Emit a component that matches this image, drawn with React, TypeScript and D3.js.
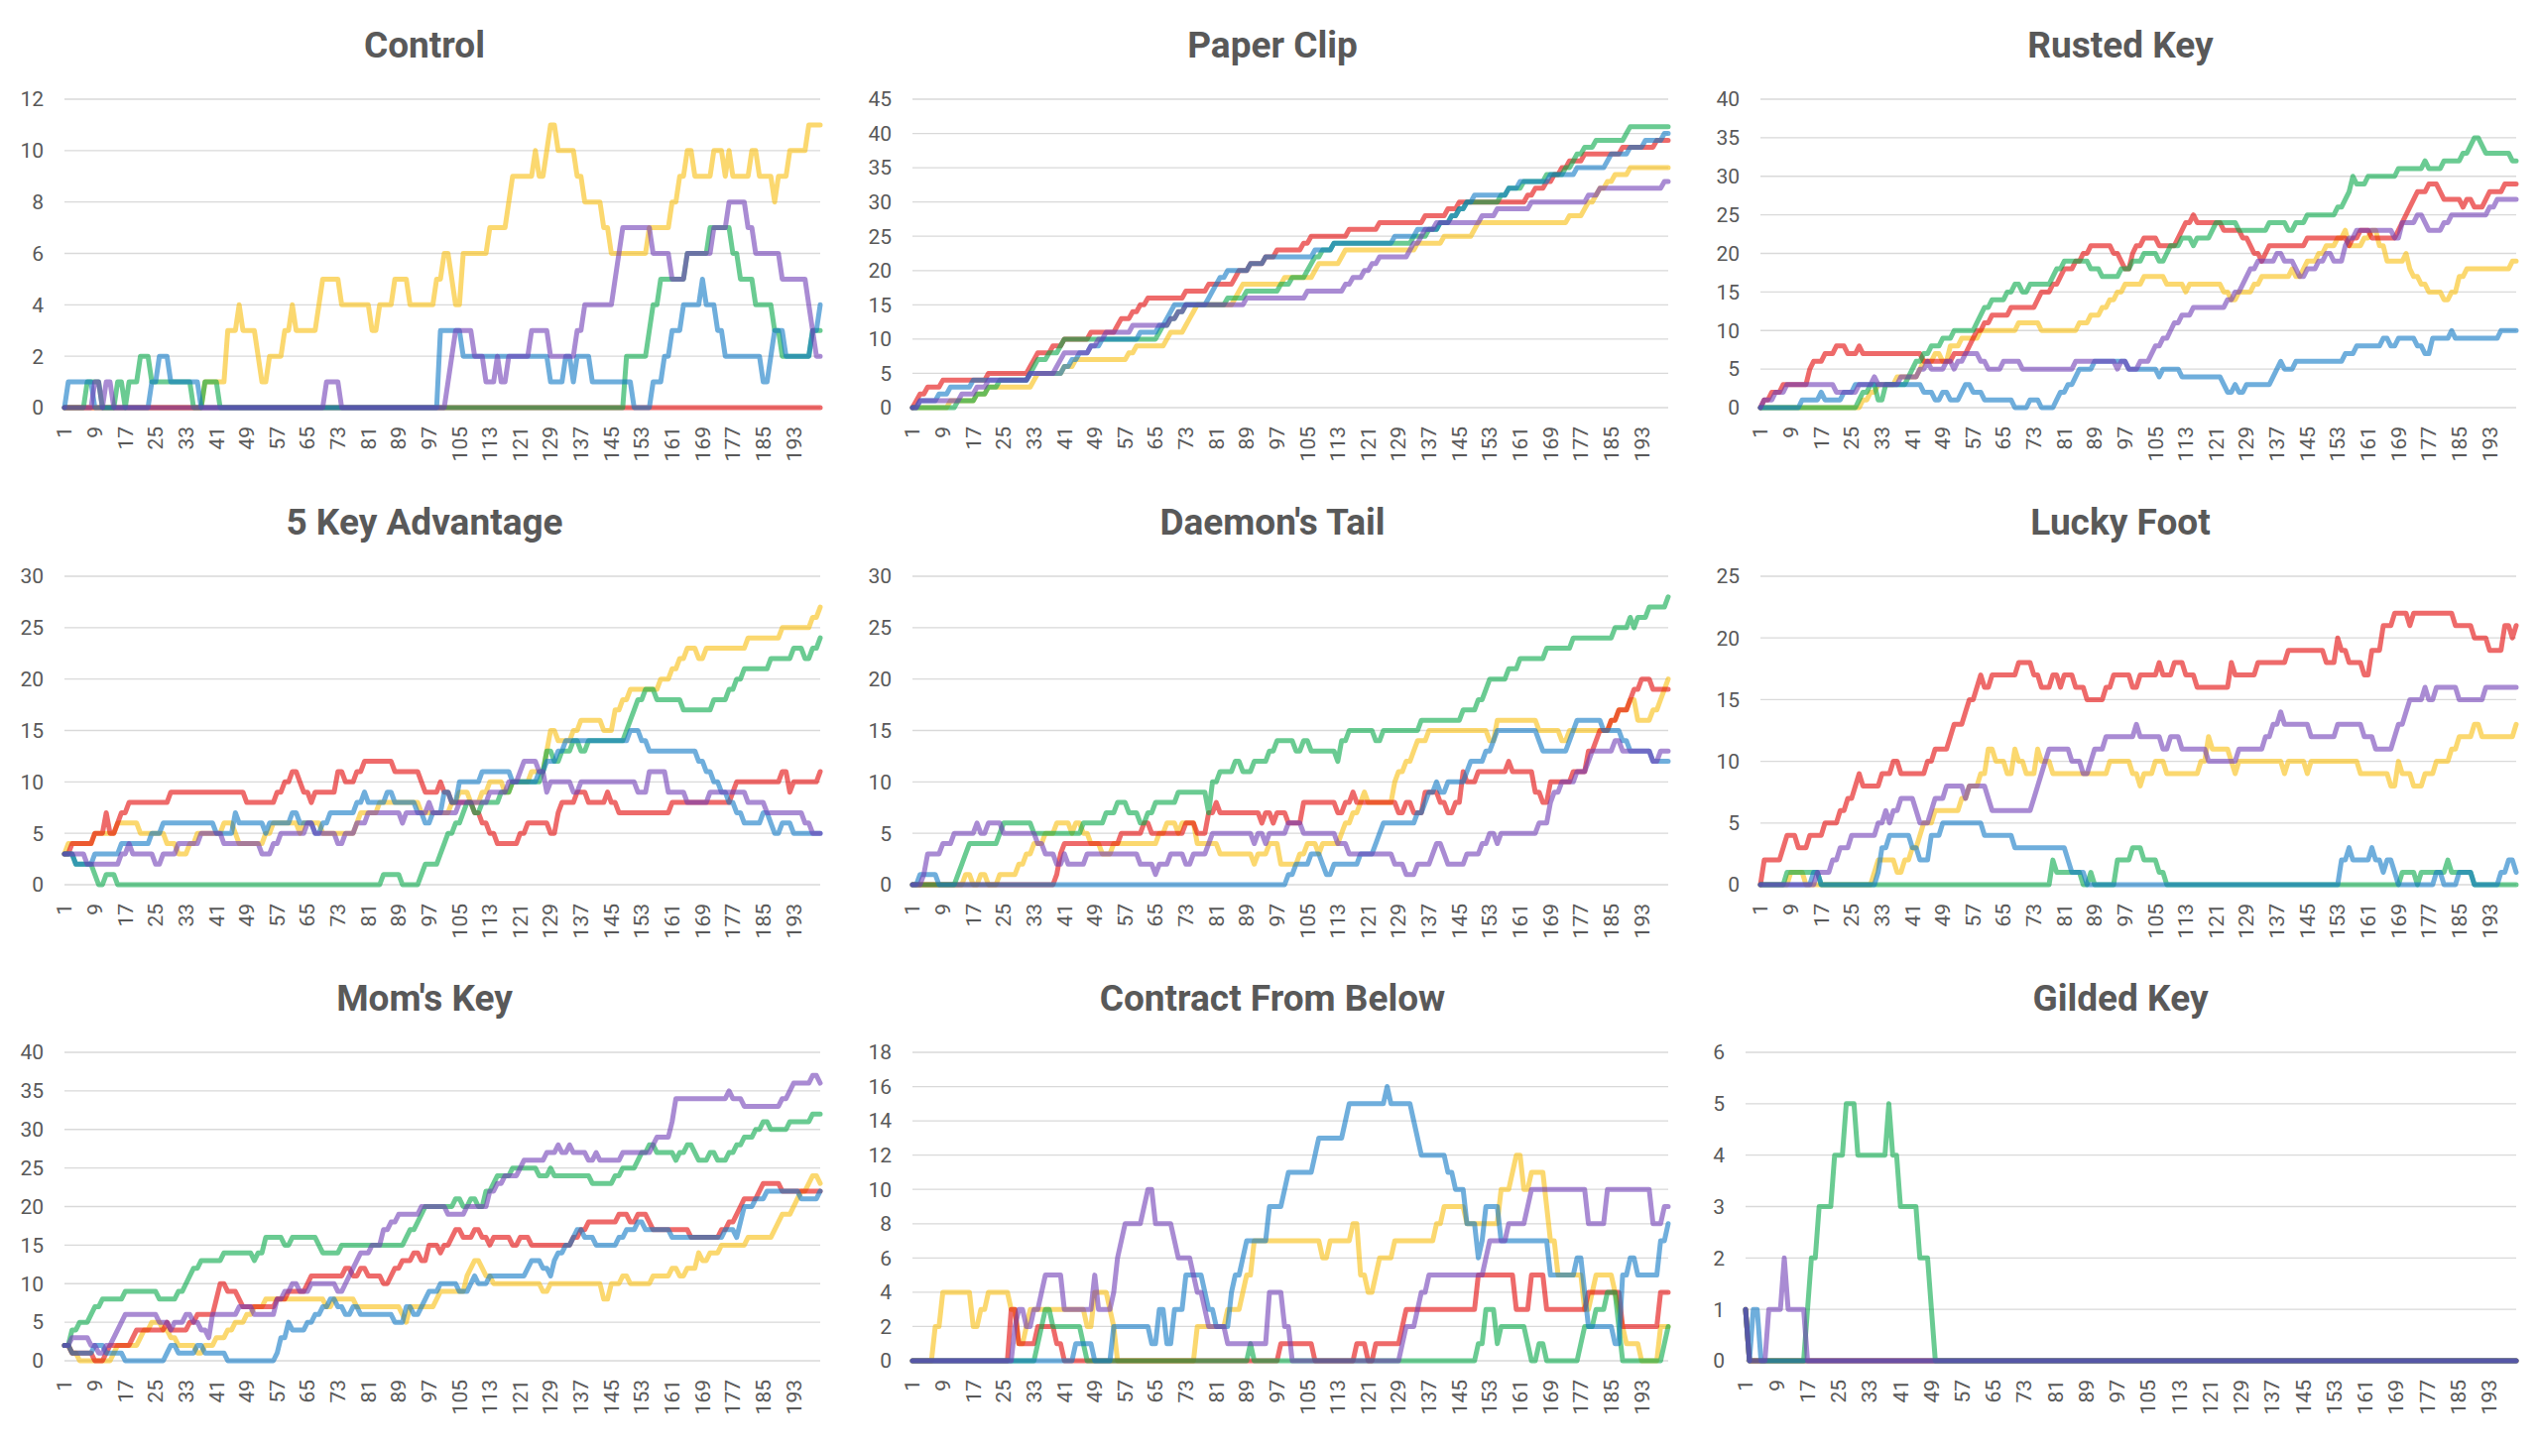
import * as d3 from 'd3';
import * as React from 'react';

// step data: pairs of [index, value], the value holds until the next pair
const ctrlYellow = [1,0, 38,1, 44,3, 47,4, 48,3, 52,2, 53,1, 55,2, 59,3, 61,4, 62,3, 68,4, 69,5, 74,4, 82,3, 84,4, 88,5, 92,4, 99,5, 101,6, 103,5, 104,4, 106,6, 113,7, 118,8, 119,9, 125,10, 126,9, 128,10, 129,11, 131,10, 136,9, 138,8, 143,7, 145,6, 155,7, 161,8, 163,9, 165,10, 167,9, 172,10, 175,9, 176,10, 177,9, 182,10, 184,9, 188,8, 189,9, 192,10, 197,11];
const ctrlRed = [1,0];
const ctrlGreen = [1,0, 7,1, 11,0, 15,1, 17,0, 18,1, 21,2, 24,1, 35,0, 38,1, 42,0, 149,2, 155,3, 156,4, 158,5, 165,6, 171,7, 177,6, 179,5, 183,4, 188,3, 190,2, 198,3];
const ctrlBlue = [1,0, 2,1, 9,0, 24,1, 26,2, 29,1, 37,0, 100,3, 106,2, 129,1, 133,2, 135,1, 136,2, 140,1, 151,0, 156,1, 159,2, 161,3, 164,4, 169,5, 170,4, 173,3, 175,2, 185,1, 187,2, 188,3, 191,2, 198,3, 200,4];
const ctrlPurple = [1,0, 9,1, 11,0, 12,1, 14,0, 70,1, 74,0, 102,1, 103,2, 104,3, 109,2, 112,1, 115,2, 116,1, 118,2, 124,3, 129,2, 136,3, 138,4, 146,5, 147,6, 148,7, 156,6, 161,5, 165,6, 172,7, 176,8, 181,7, 183,6, 190,5, 197,4, 198,3, 199,2];

const pcYellow = [1,0, 11,1, 18,2, 21,3, 33,4, 34,5, 41,6, 44,7, 58,8, 60,9, 68,10, 69,11, 73,12, 74,13, 75,14, 76,15, 86,16, 87,17, 88,18, 99,19, 107,20, 108,21, 114,22, 115,23, 134,24, 141,25, 149,26, 150,27, 174,28, 178,29, 179,30, 181,31, 182,32, 184,33, 186,34, 190,35];
const pcRed = [1,0, 2,1, 3,2, 5,3, 9,4, 21,5, 32,6, 33,7, 34,8, 38,9, 41,10, 48,11, 55,12, 56,13, 59,14, 61,15, 63,16, 73,17, 79,18, 86,19, 87,20, 90,21, 94,22, 97,23, 104,24, 106,25, 116,26, 124,27, 136,28, 142,29, 145,30, 163,31, 165,32, 168,33, 170,34, 172,35, 174,36, 178,37, 188,38, 197,39];
const pcGreen = [1,0, 13,1, 18,2, 21,3, 24,4, 32,5, 33,6, 34,7, 37,8, 40,9, 41,10, 66,11, 67,12, 69,13, 71,14, 73,15, 84,16, 89,17, 98,18, 101,19, 105,20, 106,21, 107,22, 109,23, 112,24, 133,25, 137,26, 140,27, 143,28, 145,29, 147,30, 156,31, 158,32, 162,33, 168,34, 173,35, 175,36, 176,37, 178,38, 181,39, 189,40, 190,41];
const pcBlue = [1,0, 3,1, 8,2, 11,3, 17,4, 32,5, 41,6, 43,7, 45,8, 48,9, 51,10, 61,11, 66,12, 68,13, 69,14, 70,15, 79,16, 80,17, 81,18, 82,19, 84,20, 90,21, 94,22, 107,23, 112,24, 128,25, 134,26, 140,27, 143,28, 145,29, 147,30, 149,31, 158,32, 161,33, 169,34, 176,35, 184,36, 185,37, 190,38, 194,39, 199,40];
const pcPurple = [1,0, 3,1, 14,2, 18,3, 21,4, 32,5, 39,6, 40,7, 41,8, 48,9, 50,10, 52,11, 59,12, 69,13, 71,14, 73,15, 89,16, 105,17, 115,18, 117,19, 120,20, 122,21, 124,22, 132,23, 133,24, 135,25, 136,26, 139,27, 151,28, 155,29, 164,30, 179,31, 182,32, 199,33];

const rkYellow = [1,0, 28,1, 30,2, 32,3, 37,4, 43,5, 44,6, 47,7, 49,6, 51,8, 54,9, 59,10, 69,11, 75,10, 85,11, 88,12, 91,13, 93,14, 95,15, 97,16, 102,17, 108,16, 113,15, 114,16, 123,15, 125,14, 127,15, 131,16, 133,17, 141,18, 142,17, 144,18, 145,19, 148,20, 150,21, 153,22, 155,23, 156,21, 160,22, 162,23, 164,21, 166,19, 171,20, 172,18, 173,17, 175,16, 177,15, 181,14, 183,15, 185,17, 187,18, 199,19];
const rkRed = [1,0, 2,1, 4,2, 7,3, 14,5, 15,6, 18,7, 21,8, 24,7, 27,8, 28,7, 44,6, 52,7, 56,8, 57,9, 58,10, 60,11, 62,12, 67,13, 74,14, 75,15, 78,16, 80,17, 81,18, 84,19, 86,20, 88,21, 94,20, 96,19, 97,18, 99,20, 100,21, 102,22, 106,21, 111,22, 112,23, 113,24, 115,25, 116,24, 123,23, 128,22, 130,21, 131,20, 133,19, 134,20, 135,21, 145,22, 156,21, 157,22, 159,23, 162,22, 169,23, 170,24, 171,25, 172,26, 173,27, 174,28, 177,29, 180,28, 181,27, 186,26, 187,27, 189,26, 192,27, 193,28, 197,29];
const rkGreen = [1,0, 27,1, 28,2, 30,3, 32,1, 34,3, 40,4, 41,5, 42,6, 44,7, 46,8, 49,9, 52,10, 58,11, 59,12, 60,13, 62,14, 66,15, 68,16, 70,15, 72,16, 78,17, 79,18, 81,19, 88,18, 91,17, 96,18, 99,19, 102,20, 106,19, 108,20, 109,21, 112,22, 115,21, 116,22, 120,23, 121,24, 127,23, 135,24, 140,23, 142,24, 145,25, 153,26, 155,27, 156,28, 157,30, 158,29, 161,30, 169,31, 176,32, 177,31, 181,32, 186,33, 188,34, 189,35, 191,34, 192,33, 199,32];
const rkBlue = [1,0, 12,1, 17,2, 18,1, 23,2, 26,3, 44,2, 47,1, 49,2, 51,1, 54,2, 55,3, 57,2, 60,1, 68,0, 72,1, 75,0, 79,1, 80,2, 82,3, 84,4, 85,5, 89,6, 98,5, 106,4, 107,5, 112,4, 123,3, 124,2, 126,3, 127,2, 129,3, 136,4, 137,5, 138,6, 139,5, 142,6, 155,7, 158,8, 165,9, 167,8, 169,9, 174,8, 176,7, 178,9, 183,10, 184,9, 196,10];
const rkPurple = [1,0, 2,1, 5,2, 8,3, 21,2, 27,3, 31,4, 32,3, 38,4, 43,5, 45,6, 46,5, 50,6, 52,5, 53,6, 55,7, 59,6, 61,5, 65,6, 70,5, 84,6, 95,5, 96,6, 98,5, 101,6, 104,7, 105,8, 107,9, 109,10, 110,11, 112,12, 115,13, 124,14, 126,15, 128,16, 129,17, 130,18, 132,19, 137,20, 139,19, 142,18, 143,17, 145,18, 148,19, 150,20, 152,19, 155,21, 156,22, 158,23, 168,22, 170,24, 174,25, 176,24, 177,23, 181,24, 183,25, 193,26, 195,27];

const kaYellow = [1,3, 2,4, 9,5, 15,6, 21,5, 28,4, 31,3, 34,4, 36,5, 43,6, 46,5, 47,4, 54,5, 56,6, 63,5, 64,6, 69,5, 78,6, 79,7, 84,8, 95,7, 103,8, 105,9, 108,8, 111,9, 113,10, 117,9, 119,10, 124,11, 128,13, 129,15, 131,14, 135,15, 137,16, 143,15, 146,17, 148,18, 150,19, 158,20, 161,21, 163,22, 165,23, 168,22, 170,23, 181,24, 190,25, 198,26, 200,27];
const kaRed = [1,3, 3,4, 9,5, 12,7, 13,5, 15,6, 16,7, 18,8, 29,9, 49,8, 57,9, 59,10, 61,11, 63,10, 64,9, 66,8, 67,9, 73,11, 75,10, 78,11, 80,12, 88,11, 95,10, 96,9, 100,10, 101,9, 103,8, 109,7, 111,6, 113,5, 115,4, 121,5, 123,6, 129,5, 131,7, 132,8, 136,9, 139,8, 144,9, 145,8, 147,7, 161,8, 177,9, 178,10, 190,11, 192,9, 193,10, 200,11];
const kaGreen = [1,3, 4,2, 9,1, 10,0, 12,1, 15,0, 85,1, 90,0, 95,1, 96,2, 100,3, 101,4, 102,5, 104,6, 106,7, 107,8, 109,7, 111,8, 116,9, 119,10, 127,11, 128,13, 130,12, 132,13, 135,14, 137,13, 139,14, 149,15, 150,16, 151,17, 152,18, 154,19, 157,18, 164,17, 172,18, 176,19, 178,20, 180,21, 187,22, 193,23, 196,22, 198,23, 200,24];
const kaBlue = [1,3, 4,2, 9,3, 16,4, 24,5, 27,6, 41,5, 46,7, 47,6, 54,5, 55,6, 61,7, 63,6, 67,5, 69,6, 71,7, 78,8, 80,9, 81,8, 86,9, 88,8, 94,7, 96,6, 98,7, 101,9, 103,8, 105,10, 111,11, 119,10, 126,11, 128,12, 131,13, 133,14, 150,15, 153,14, 155,13, 168,12, 170,11, 172,10, 174,9, 176,8, 178,7, 180,6, 185,7, 187,6, 188,5, 190,6, 193,5];
const kaPurple = [1,3, 7,2, 16,3, 18,4, 19,3, 25,2, 27,3, 31,4, 37,5, 43,4, 53,3, 56,4, 58,5, 65,6, 67,5, 73,4, 75,5, 78,6, 81,7, 90,6, 91,7, 97,8, 98,7, 105,8, 113,9, 118,10, 121,11, 122,12, 126,11, 128,9, 129,10, 135,9, 137,10, 152,9, 155,11, 160,9, 165,8, 171,9, 181,8, 186,7, 196,6, 198,5];

const dtYellow = [1,0, 15,1, 17,0, 19,1, 21,0, 24,1, 29,2, 31,3, 33,4, 36,5, 39,6, 43,5, 44,6, 46,5, 48,4, 51,3, 54,4, 66,5, 68,6, 71,5, 72,6, 76,4, 82,3, 91,2, 92,3, 95,4, 98,2, 103,3, 105,4, 108,3, 109,4, 114,5, 115,6, 117,7, 119,8, 120,9, 121,8, 128,10, 129,11, 131,12, 133,13, 134,14, 137,15, 153,14, 155,16, 166,15, 172,14, 174,15, 185,16, 187,17, 190,18, 192,16, 196,17, 198,18, 199,19, 200,20];
const dtRed = [1,0, 39,1, 40,3, 41,4, 55,4, 56,5, 62,6, 64,5, 73,6, 76,5, 79,7, 81,8, 82,7, 93,6, 94,7, 96,6, 97,7, 100,6, 104,8, 113,7, 115,8, 117,9, 118,8, 129,7, 131,8, 133,7, 136,9, 140,8, 142,7, 144,8, 146,11, 147,10, 150,11, 158,12, 159,11, 165,9, 167,8, 169,10, 175,11, 179,13, 181,14, 182,15, 185,16, 187,17, 190,18, 191,19, 193,20, 196,19];
const dtGreen = [1,0, 13,1, 14,2, 15,3, 16,4, 24,5, 25,6, 33,5, 46,6, 52,7, 55,8, 58,7, 61,6, 63,7, 65,8, 71,9, 79,7, 80,10, 82,11, 86,12, 88,11, 91,12, 95,13, 97,14, 102,13, 104,14, 106,13, 113,12, 114,14, 116,15, 123,14, 125,15, 135,16, 146,17, 150,18, 152,19, 153,20, 158,21, 161,22, 168,23, 175,24, 186,25, 190,26, 191,25, 192,26, 195,27, 200,28];
const dtBlue = [1,0, 3,1, 8,0, 100,1, 102,2, 106,3, 109,2, 110,1, 112,2, 119,3, 123,4, 124,5, 125,6, 134,7, 136,8, 137,9, 139,10, 140,9, 142,10, 147,11, 148,12, 152,13, 154,14, 155,15, 166,14, 167,13, 174,14, 175,15, 176,16, 183,15, 188,14, 190,13, 196,12];
const dtPurple = [1,0, 4,1, 5,3, 9,4, 12,5, 18,6, 19,5, 21,6, 25,5, 34,4, 36,3, 39,2, 41,3, 42,2, 47,3, 61,2, 65,1, 66,2, 69,3, 73,2, 75,3, 79,4, 80,5, 91,4, 92,5, 94,4, 95,5, 100,6, 104,5, 113,4, 116,3, 128,2, 131,1, 134,2, 138,3, 139,4, 141,3, 142,2, 147,3, 151,4, 153,5, 155,4, 156,5, 166,6, 169,8, 170,9, 172,10, 176,11, 179,12, 180,13, 186,14, 188,13, 196,12, 198,13];

const lfYellow = [1,0, 9,1, 13,0, 31,1, 32,2, 37,1, 39,2, 41,3, 43,4, 44,5, 47,6, 54,7, 56,8, 59,9, 61,11, 63,10, 66,9, 68,11, 69,10, 71,9, 74,11, 75,10, 78,9, 93,10, 99,9, 101,8, 102,9, 105,10, 108,9, 117,10, 119,12, 120,11, 125,10, 126,9, 127,10, 139,9, 140,10, 145,9, 146,10, 159,9, 167,8, 169,10, 170,9, 173,8, 176,9, 179,10, 183,11, 185,12, 189,13, 191,12, 200,13];
const lfRed = [1,0, 2,2, 7,3, 8,4, 11,3, 14,4, 18,5, 22,6, 24,7, 26,8, 27,9, 28,8, 33,9, 36,10, 38,9, 45,10, 47,11, 51,12, 52,13, 55,14, 56,15, 58,16, 59,17, 60,16, 62,17, 69,18, 73,17, 75,16, 78,17, 80,16, 81,17, 84,16, 87,15, 92,16, 94,17, 99,16, 101,17, 106,18, 107,17, 110,18, 113,17, 116,16, 125,18, 126,17, 132,18, 140,19, 150,18, 153,20, 154,19, 156,18, 160,17, 162,19, 165,21, 168,22, 172,21, 173,22, 184,21, 189,20, 193,19, 197,21, 199,20, 200,21];
const lfGreen = [1,0, 8,1, 17,0, 78,2, 79,1, 86,0, 88,1, 89,0, 95,2, 99,3, 102,2, 106,1, 108,0, 170,1, 174,0, 175,1, 182,2, 183,1, 189,0];
const lfBlue = [1,0, 15,1, 17,0, 32,1, 33,3, 35,4, 41,3, 43,2, 46,4, 49,5, 60,4, 68,3, 82,2, 83,1, 87,0, 154,2, 156,3, 157,2, 162,3, 163,2, 165,1, 166,2, 168,1, 169,0, 179,1, 181,0, 185,1, 189,0, 196,1, 198,2, 200,1];
const lfPurple = [1,0, 16,1, 20,2, 22,3, 25,4, 32,5, 34,6, 35,5, 36,6, 38,7, 42,6, 43,5, 46,6, 47,7, 50,8, 55,7, 56,8, 61,7, 62,6, 73,7, 74,8, 75,9, 76,10, 77,11, 83,10, 86,9, 88,10, 89,11, 92,12, 100,13, 101,12, 107,11, 109,12, 112,11, 119,10, 127,11, 134,12, 136,13, 138,14, 139,13, 146,12, 153,13, 160,12, 163,11, 168,12, 169,13, 171,14, 172,15, 176,16, 177,15, 179,16, 185,15, 192,16];

const mkYellow = [1,2, 3,1, 5,0, 14,1, 15,2, 21,3, 22,4, 24,5, 27,4, 29,3, 31,2, 36,1, 38,2, 41,3, 44,4, 46,5, 49,6, 51,7, 54,8, 70,7, 72,8, 78,7, 90,6, 91,5, 92,7, 99,8, 100,9, 107,11, 108,12, 109,13, 111,12, 112,11, 114,10, 127,9, 129,10, 143,8, 145,10, 148,11, 150,10, 156,11, 161,12, 163,11, 165,12, 168,14, 169,13, 171,14, 174,15, 181,16, 188,17, 189,18, 190,19, 193,20, 194,21, 195,22, 197,23, 198,24, 200,23];
const mkRed = [1,2, 3,1, 9,0, 12,1, 13,2, 19,3, 20,4, 28,5, 29,4, 34,5, 36,6, 41,8, 42,10, 44,9, 47,8, 48,7, 57,8, 60,9, 65,10, 66,11, 75,12, 77,11, 79,12, 81,11, 85,10, 87,11, 88,12, 90,13, 93,14, 95,13, 97,15, 100,14, 101,15, 103,16, 104,17, 106,16, 109,17, 111,16, 113,15, 114,16, 119,15, 121,16, 124,15, 135,16, 137,17, 139,18, 147,19, 150,18, 152,19, 155,18, 156,17, 166,16, 174,17, 176,18, 178,19, 179,20, 180,21, 184,22, 185,23, 190,22];
const mkGreen = [1,2, 3,4, 5,5, 8,6, 9,7, 11,8, 17,9, 26,8, 31,9, 33,10, 34,11, 35,12, 37,13, 43,14, 51,13, 52,14, 54,16, 59,15, 61,16, 68,15, 69,14, 74,15, 91,16, 92,17, 94,18, 95,19, 96,20, 104,21, 106,20, 108,21, 110,20, 112,22, 114,23, 115,24, 119,25, 126,24, 129,25, 130,24, 140,23, 146,24, 148,25, 152,26, 153,27, 155,28, 157,27, 162,26, 163,27, 165,28, 167,27, 168,26, 171,27, 173,26, 176,27, 178,28, 180,29, 183,30, 185,31, 187,30, 192,31, 198,32];
const mkBlue = [1,2, 3,1, 9,2, 12,1, 17,0, 28,1, 29,2, 31,1, 36,2, 38,1, 44,0, 57,1, 58,3, 60,5, 61,4, 65,5, 67,6, 69,7, 71,8, 73,7, 75,6, 77,7, 79,6, 88,5, 91,7, 93,6, 95,7, 96,8, 97,9, 100,10, 105,9, 108,10, 109,11, 110,10, 113,11, 123,12, 124,13, 127,12, 129,11, 130,13, 131,14, 133,15, 135,16, 136,17, 138,16, 141,15, 147,16, 149,17, 152,18, 154,17, 161,16, 175,17, 178,16, 179,18, 180,20, 183,21, 186,22, 195,21, 200,22];
const mkPurple = [1,2, 3,3, 8,2, 10,1, 12,2, 14,3, 15,4, 16,5, 17,6, 26,5, 29,4, 30,5, 33,6, 35,5, 37,4, 39,3, 40,6, 47,7, 51,6, 57,8, 59,9, 61,10, 63,9, 66,10, 73,9, 75,10, 76,11, 77,12, 78,13, 79,14, 82,15, 85,17, 87,18, 89,19, 95,20, 102,19, 107,20, 113,22, 115,23, 117,24, 121,25, 122,26, 128,27, 131,28, 132,27, 134,28, 135,27, 139,26, 141,27, 142,26, 148,27, 156,28, 157,29, 161,31, 162,34, 176,35, 177,34, 180,33, 190,34, 192,35, 193,36, 198,37, 200,36];

const cfYellow = [1,0, 7,2, 9,4, 17,2, 19,3, 21,4, 27,3, 29,1, 31,2, 32,3, 47,2, 49,4, 53,3, 54,2, 55,0, 76,2, 84,3, 88,4, 89,5, 91,7, 109,6, 111,7, 117,8, 119,5, 121,4, 123,5, 124,6, 128,7, 139,8, 141,9, 147,8, 156,10, 159,11, 160,12, 162,10, 164,11, 168,9, 169,7, 171,5, 178,3, 180,4, 181,5, 186,4, 187,3, 188,2, 189,1, 193,0, 198,2];
const cfRed = [1,0, 27,3, 29,1, 34,2, 39,1, 41,0, 98,1, 107,0, 118,1, 121,0, 123,1, 130,2, 131,3, 150,5, 160,3, 164,5, 168,3, 179,4, 188,2, 198,4];
const cfGreen = [1,0, 34,1, 35,2, 36,3, 38,2, 46,1, 47,0, 90,1, 91,0, 150,1, 152,3, 155,1, 156,2, 163,1, 164,0, 166,1, 168,0, 177,1, 178,2, 181,3, 184,4, 187,2, 188,0, 199,1, 200,2];
const cfBlue = [1,0, 44,1, 49,0, 54,2, 64,1, 66,3, 68,1, 70,3, 73,5, 78,4, 79,3, 81,2, 85,4, 86,5, 88,6, 89,7, 95,9, 99,10, 100,11, 107,12, 108,13, 115,14, 116,15, 126,16, 127,15, 133,14, 134,13, 135,12, 142,11, 144,10, 147,8, 150,6, 151,7, 152,9, 156,7, 169,5, 176,6, 178,4, 179,2, 186,1, 188,5, 190,6, 192,5, 198,7, 200,8];
const cfPurple = [1,0, 28,2, 29,3, 31,2, 33,3, 35,4, 36,5, 41,3, 49,5, 50,3, 54,4, 55,6, 56,7, 57,8, 62,9, 63,10, 65,8, 70,7, 71,6, 75,5, 76,4, 78,3, 79,2, 84,1, 95,4, 99,2, 101,0, 130,1, 131,2, 134,3, 135,4, 137,5, 152,6, 153,7, 158,8, 163,9, 164,10, 179,8, 184,10, 196,8, 199,9];

const gkYellow = [1,1, 2,0];
const gkRed = [1,1, 2,0];
const gkGreen = [1,1, 2,0, 17,1, 18,2, 20,3, 24,4, 27,5, 30,4, 38,5, 39,4, 41,3, 46,2, 49,1, 50,0];
const gkBlue = [1,1, 2,0, 3,1, 5,0];
const gkPurple = [1,1, 2,0, 7,1, 11,2, 12,1, 17,0];

const titles = ['Control', 'Paper Clip', 'Rusted Key', '5 Key Advantage', "Daemon's Tail", 'Lucky Foot', "Mom's Key", 'Contract From Below', 'Gilded Key'];
const yMaxes = [12, 45, 40, 30, 30, 25, 40, 18, 6];
const ySteps = [2, 5, 5, 5, 5, 5, 5, 2, 1];
const xTickLabels = [1, 9, 17, 25, 33, 41, 49, 57, 65, 73, 81, 89, 97, 105, 113, 121, 129, 137, 145, 153, 161, 169, 177, 185, 193];
const pointCount = 200;

// drawing order: yellow, red, green, blue, purple
const seriesColors = ['#F9BE0F', '#E30707', '#07A849', '#0F78C5', '#703EB6'];
const panelSeries = [
  [ctrlYellow, ctrlRed, ctrlGreen, ctrlBlue, ctrlPurple],
  [pcYellow, pcRed, pcGreen, pcBlue, pcPurple],
  [rkYellow, rkRed, rkGreen, rkBlue, rkPurple],
  [kaYellow, kaRed, kaGreen, kaBlue, kaPurple],
  [dtYellow, dtRed, dtGreen, dtBlue, dtPurple],
  [lfYellow, lfRed, lfGreen, lfBlue, lfPurple],
  [mkYellow, mkRed, mkGreen, mkBlue, mkPurple],
  [cfYellow, cfRed, cfGreen, cfBlue, cfPurple],
  [gkYellow, gkRed, gkGreen, gkBlue, gkPurple],
];

const expand = (steps: number[]) => {
  const out: number[] = [];
  let k = 0;
  for (let i = 1; i <= pointCount; i++) {
    while (k + 2 < steps.length && steps[k + 2] <= i) k += 2;
    out.push(steps[k + 1]);
  }
  return out;
};

const colOffsets = [0, 855, 1710];
const rowOffsets = [0, 481, 961];
const FONT = "Roboto, 'Liberation Sans', Arial, sans-serif";
const TEXT = '#595959';

const Panel = ({ p }: { p: number }) => {
  const ox = colOffsets[p % 3];
  const oy = rowOffsets[Math.floor(p / 3)];
  const yMax = yMaxes[p];
  const left = ox + (yMax >= 10 ? 65 : 50);
  const right = ox + 827;
  const top = oy + 100;
  const bottom = oy + 411;

  const x = d3.scaleLinear().domain([1, pointCount]).range([left, right]);
  const y = d3.scaleLinear().domain([0, yMax]).range([bottom, top]);
  const yTicks = d3.range(0, yMax + ySteps[p] / 2, ySteps[p]);
  const line = d3.line<number>().x((_, i) => x(i + 1)).y((v) => y(v));

  return (
    <g>
      <text x={ox + 428} y={oy + 45} dy="0.35em" textAnchor="middle" fontFamily={FONT} fontWeight="bold" fontSize={37} fill={TEXT}>
        {titles[p]}
      </text>
      {yTicks.map((t) => (
        <g key={t}>
          <line x1={left} x2={right} y1={y(t)} y2={y(t)} stroke="#D9D9D9" strokeWidth={1.3} />
          <text x={left - 21} y={y(t)} dy="0.35em" textAnchor="end" fontFamily={FONT} fontSize={21} fill={TEXT}>
            {t}
          </text>
        </g>
      ))}
      {xTickLabels.map((t) => (
        <text key={t} transform={`translate(${x(t)},${bottom + 19}) rotate(-90)`} dy="0.35em" textAnchor="end" fontFamily={FONT} fontSize={21} fill={TEXT}>
          {t}
        </text>
      ))}
      {panelSeries[p].map((s, i) => (
        <path key={i} d={line(expand(s)) || ''} fill="none" stroke={seriesColors[i]} strokeOpacity={0.6} strokeWidth={5} strokeLinejoin="round" strokeLinecap="round" />
      ))}
    </g>
  );
};

export default function App() {
  return (
    <svg width={2560} height={1468} style={{ position: 'absolute', left: 0, top: 0, background: '#fff' }}>
      {titles.map((_, p) => (
        <Panel key={p} p={p} />
      ))}
    </svg>
  );
}
